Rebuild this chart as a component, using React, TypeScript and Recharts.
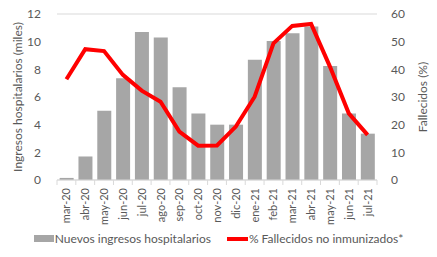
import React from "react";
import {
  ComposedChart,
  Bar,
  Line,
  XAxis,
  YAxis,
  CartesianGrid,
  Legend,
} from "recharts";

const months = [
  "mar-20", "abr-20", "may-20", "jun-20", "jul-20", "ago-20", "sep-20", "oct-20",
  "nov-20", "dic-20", "ene-21", "feb-21", "mar-21", "abr-21", "may-21", "jun-21", "jul-21",
];
const ingresos = [0.15, 1.7, 5.0, 7.35, 10.7, 10.3, 6.7, 4.8, 4.0, 4.0, 8.7, 10.05, 10.6, 11.1, 8.25, 4.8, 3.35];
const fallecidos = [36.4, 47.3, 46.6, 38, 32.3, 28.3, 17.5, 12.4, 12.5, 19.3, 30.1, 49.4, 55.7, 56.4, 41, 24.1, 16.3];
const leftTicks = [0, 2, 4, 6, 8, 10, 12];
const rightTicks = [0, 10, 20, 30, 40, 50, 60];

const data = months.map((m, i) => ({ mes: m, ingresos: ingresos[i], fallecidos: fallecidos[i] }));

const FONT = "Lato, 'Liberation Sans', sans-serif";
const TXT = "#595959";
const BAND = 320 / months.length;

const MonthTick = (props: any) => {
  const { x, y, payload, index } = props;
  return (
    <g>
      <line x1={x - BAND / 2} x2={x - BAND / 2} y1={y - 8} y2={y - 3} stroke="#d9d9d9" />
      {index === months.length - 1 && (
        <line x1={x + BAND / 2} x2={x + BAND / 2} y1={y - 8} y2={y - 3} stroke="#d9d9d9" />
      )}
      <text
        x={x}
        y={y}
        transform={`rotate(-90, ${x}, ${y})`}
        textAnchor="end"
        dy={4}
        fill={TXT}
        fontSize={11}
        fontFamily={FONT}
      >
        {payload.value}
      </text>
    </g>
  );
};

const LegendBox = () => (
  <div
    style={{
      display: "flex",
      justifyContent: "center",
      alignItems: "center",
      fontFamily: FONT,
      fontSize: 12,
      color: TXT,
      gap: 16,
    }}
  >
    <div style={{ display: "flex", alignItems: "center" }}>
      <div style={{ width: 20, height: 7, background: "#a6a6a6", marginRight: 1 }} />
      <span>Nuevos ingresos hospitalarios</span>
    </div>
    <div style={{ display: "flex", alignItems: "center" }}>
      <div style={{ width: 21, height: 4, background: "#ff0000", marginRight: 1 }} />
      <span>% Fallecidos no inmunizados*</span>
    </div>
  </div>
);

export default function App() {
  return (
    <div style={{ position: "absolute", left: 0, top: 0, background: "#fff" }}>
      <ComposedChart
        width={437}
        height={257}
        data={data}
        margin={{ top: 14, right: 0, bottom: 0, left: 0 }}
        barCategoryGap="14%"
      >
        <CartesianGrid vertical={false} stroke="#d9d9d9" />
        <XAxis
          dataKey="mes"
          interval={0}
          height={51}
          tick={<MonthTick />}
          tickLine={false}
          axisLine={{ stroke: "#d9d9d9" }}
        />
        <YAxis
          yAxisId="left"
          width={57}
          domain={[0, 12]}
          ticks={leftTicks}
          axisLine={false}
          tickLine={false}
          tick={{ fill: TXT, fontSize: 12, fontFamily: FONT }}
          tickMargin={10}
          label={{
            value: "Ingresos hospitalarios (miles)",
            angle: -90,
            position: "insideLeft",
            offset: 18,
            style: { fill: TXT, fontSize: 12, fontFamily: FONT, textAnchor: "middle" },
          }}
        />
        <YAxis
          yAxisId="right"
          orientation="right"
          width={60}
          domain={[0, 60]}
          ticks={rightTicks}
          axisLine={false}
          tickLine={false}
          tick={{ fill: TXT, fontSize: 12, fontFamily: FONT }}
          tickMargin={8}
          label={{
            value: "Fallecidos (%)",
            angle: -90,
            position: "insideRight",
            offset: 14,
            style: { fill: TXT, fontSize: 12, fontFamily: FONT, textAnchor: "middle" },
          }}
        />
        <Legend verticalAlign="bottom" height={26} content={<LegendBox />} />
        <Bar yAxisId="left" dataKey="ingresos" fill="#a6a6a6" isAnimationActive={false} />
        <Line
          yAxisId="right"
          dataKey="fallecidos"
          stroke="#ff0000"
          strokeWidth={4}
          dot={false}
          type="linear"
          isAnimationActive={false}
        />
      </ComposedChart>
    </div>
  );
}
